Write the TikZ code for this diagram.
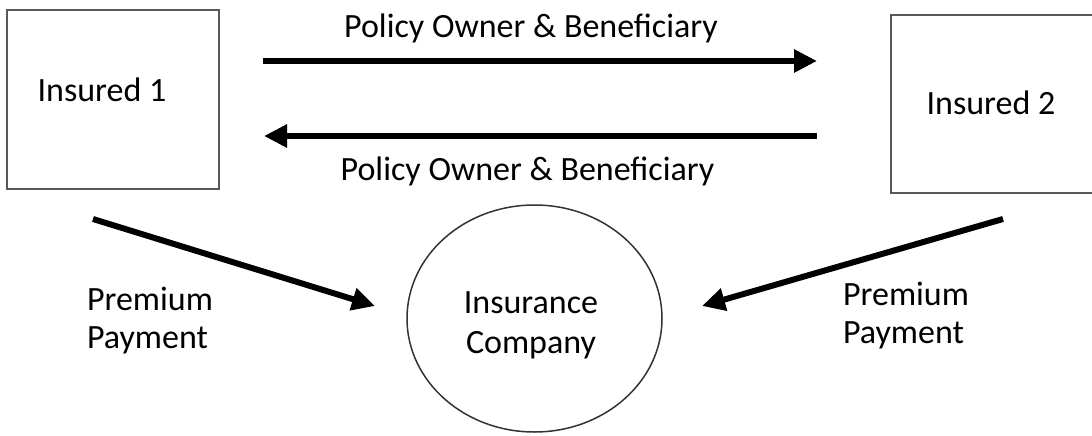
\documentclass[tikz,border=0pt]{standalone}
\usepackage{fontspec}
\setmainfont{Carlito}
\usetikzlibrary{arrows.meta,shapes.geometric,positioning}

\begin{document}
\begin{tikzpicture}[x=1pt,y=-1pt,
    party/.style={draw=black!65, line width=2pt, minimum width=212pt, inner sep=0pt},
    flow/.style={line width=6pt, -{Triangle[length=23pt,width=22pt]}},
    txt/.style={font=\fontsize{34}{38}\selectfont, inner sep=0pt}]
  \useasboundingbox (0,0) rectangle (1092,436);

  % the two insured
  \node[party, minimum height=179pt] (insA) at (113,99.5) {};
  \node[party, minimum height=178pt] (insB) at (997,104) {};
  \node[txt, anchor=base] (insAtxt) at (102,101) {Insured 1};
  \node[txt, anchor=base] (insBtxt) at (991,114) {Insured 2};

  % the insurer
  \node[ellipse, draw=black!80, line width=1.5pt, minimum width=255pt, minimum height=227pt,
        inner sep=0pt] (company) at (534.5,318.5) {};
  \node[txt, align=center, font=\fontsize{34}{40}\selectfont] (companytxt) at (531,325) {Insurance\\Company};

  % policy owner & beneficiary, both ways
  \coordinate (topL) at (263,61);
  \coordinate (topR) at (817,61);
  \coordinate (botL) at (264,136);
  \coordinate (botR) at (817,136);
  \draw[flow] (topL) -- (topR);
  \draw[flow] (botR) -- (botL);
  \node[txt, anchor=base] (ownerTop) at (531,38) {Policy Owner \& Beneficiary};
  \node[txt, anchor=base] (ownerBot) at (527.5,180) {Policy Owner \& Beneficiary};

  % premium payments
  \coordinate (payA) at (93,219);
  \coordinate (payB) at (1003,219);
  \coordinate (inA) at (375,306);
  \coordinate (inB) at (702,306);
  \draw[flow] (payA) -- (inA);
  \draw[flow] (payB) -- (inB);
  \node[txt, align=left] (premA) at (150,321) {Premium\\Payment};
  \node[txt, align=left] (premB) at (906,316) {Premium\\Payment};

\end{tikzpicture}
\end{document}
